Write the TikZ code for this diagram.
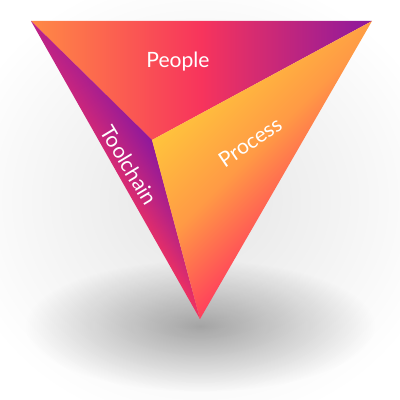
\documentclass[tikz,border=0pt]{standalone}
\usepackage{fontspec}
\setmainfont{Lato}
\usetikzlibrary{calc}
\usetikzlibrary{fadings}

\definecolor{triorange}{HTML}{FF8A45}
\definecolor{tripink}{HTML}{F7345C}
\definecolor{tripurple}{HTML}{8C189E}
\definecolor{trimagenta}{HTML}{BD2288}
\definecolor{triyellow}{HTML}{FFC43C}
\definecolor{trimid}{HTML}{FF9A45}
\definecolor{trired}{HTML}{FF3D5C}

\tikzfading[name=softedge, inner color=transparent!0, outer color=transparent!100]
\tikzfading[name=fadeup, top color=transparent!0, bottom color=transparent!100]

\tikzset{
  facelabel/.style={text=white, font=\fontsize{15}{17}\selectfont, inner sep=0pt}
}

\begin{document}
\begin{tikzpicture}[x=0.025cm, y=-0.025cm]
                    \useasboundingbox (0,0) rectangle (400,400);
                    \fill[white] (0,0) rectangle (400,400);

                    % shadow
                    \fill[black, opacity=0.10, path fading=softedge] (200,200) ellipse (250 and 230);
                    \fill[black, opacity=0.32, path fading=softedge] (200,326) ellipse (175 and 66);

                    \coordinate (TL) at (31,21);
                    \coordinate (TR) at (372,21);
                    \coordinate (B) at (200,319);
                    \coordinate (C) at (152,140);

                    % faces
                    \shade[left color=triorange, right color=tripurple, middle color=tripink]
                        (TL) -- (TR) -- (C) -- cycle;
                    \begin{scope}
                        \clip (TL) -- (C) -- (B) -- cycle;
                        \begin{scope}[transform canvas={shift={(TL)}, rotate=-60.4}]
                            \shade[left color=trimagenta, right color=tripink] (-5,2) rectangle (350,-47);
                            \fill[tripurple, path fading=fadeup] (-5,2) rectangle (350,-47);
                        \end{scope}
                    \end{scope}
                    \begin{scope}
                        \clip (C) -- (TR) -- (B) -- cycle;
                        \begin{scope}[transform canvas={shift={(C)}, rotate=-45}]
                            \shade[left color=triyellow, right color=trired, middle color=trimid] (0,100) rectangle (161,-250);
                        \end{scope}
                    \end{scope}

                    \node[facelabel] (people) at (178,62) {People};
                    \node[facelabel, rotate=34] (process) at (250,142) {Process};
                    \node[facelabel, rotate=-59] (toolchain) at (129,165) {Toolchain};
                \end{tikzpicture}
\end{document}
